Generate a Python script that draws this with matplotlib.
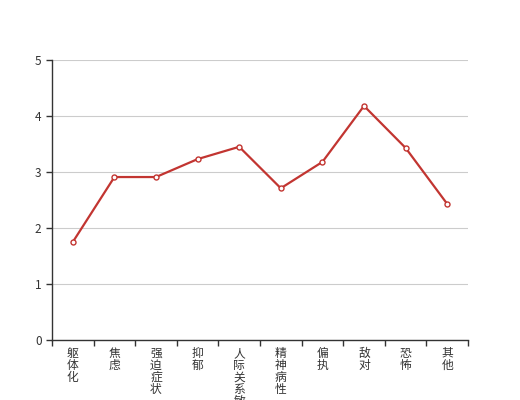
import matplotlib
matplotlib.use("Agg")
import matplotlib.pyplot as plt
import numpy as np

plt.rcParams['font.family'] = ['Noto Sans CJK SC', 'DejaVu Sans']

categories = ["躯体化", "焦虑", "强迫症状", "抑郁", "人际关系敏感",
              "精神病性", "偏执", "敌对", "恐怖", "其他"]
scores = [1.75, 2.91, 2.91, 3.23, 3.45, 2.71, 3.18, 4.18, 3.43, 2.43]
y_ticks = [0, 1, 2, 3, 4, 5]

RED = "#c23531"
AXIS = "#333333"

fig = plt.figure(figsize=(5.2, 4.0), dpi=100)
ax = fig.add_axes([0.1, 0.15, 0.8, 0.70])

x = np.arange(len(categories))
ax.plot(x, scores, color=RED, lw=1.6, marker="o", ms=3.6,
        mfc="white", mec=RED, mew=1.0, zorder=3, clip_on=False)

ax.set_xlim(-0.5, len(categories) - 0.5)
ax.set_ylim(0, 5)
ax.set_yticks(y_ticks)
ax.yaxis.grid(True, color="#cccccc", lw=0.8)
ax.set_axisbelow(True)

# category labels centred, stacked vertically; ticks on band boundaries
ax.set_xticks(x)
ax.set_xticklabels(["\n".join(c) for c in categories], va="top",
                   linespacing=0.9, fontsize=8.5, color=AXIS)
ax.tick_params(axis="x", which="major", length=0, pad=5)
ax.set_xticks(np.arange(-0.5, len(categories)), minor=True)
ax.tick_params(axis="x", which="minor", length=4, color=AXIS, width=1)

ax.tick_params(axis="y", length=4, color=AXIS, labelcolor=AXIS,
               labelsize=8.5, width=1)

for s in ("top", "right"):
    ax.spines[s].set_visible(False)
for s in ("left", "bottom"):
    ax.spines[s].set_color(AXIS)
    ax.spines[s].set_linewidth(1)

fig.savefig("out.png", dpi=100)
